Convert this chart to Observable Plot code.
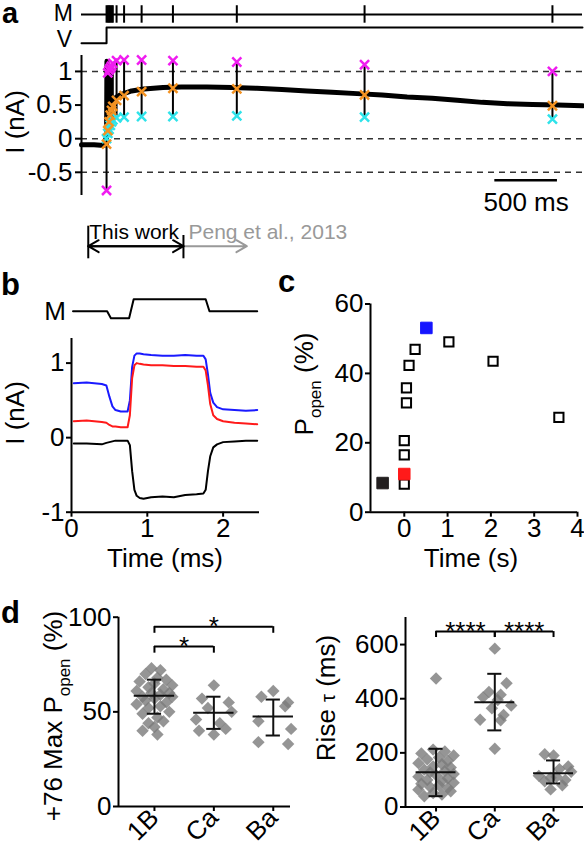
<!DOCTYPE html>
<html><head><meta charset="utf-8">
<script src="https://cdn.jsdelivr.net/npm/d3@7"></script>
<script src="https://cdn.jsdelivr.net/npm/@observablehq/plot@0.6"></script>
<style>
html,body{margin:0;padding:0;background:#fff;}
#fig{position:relative;width:584px;height:853px;overflow:hidden;font-family:'Liberation Sans',Arial,Helvetica,sans-serif;}
</style></head><body>
<div id="fig"></div>
<script>
// ---------- Panel a data ----------
const aTraceTime    = [-0.2, -0.1, -0.02, 0, 0.003, 0.006, 0.012, 0.02, 0.035, 0.05, 0.08, 0.12, 0.2, 0.3, 0.45, 0.6, 0.8, 1.0, 1.2, 1.4, 1.6, 1.8, 2.0, 2.2, 2.4, 2.6, 2.8, 3.0, 3.2, 3.4, 3.6, 3.8];
const aTraceCurrent = [-0.09, -0.09, -0.1, -0.08, 1.15, 0.9, 0.45, 0.5, 0.55, 0.58, 0.62, 0.66, 0.71, 0.74, 0.76, 0.77, 0.77, 0.76, 0.75, 0.73, 0.71, 0.69, 0.67, 0.65, 0.62, 0.6, 0.57, 0.54, 0.52, 0.51, 0.5, 0.49];
const aBarTime    = [0, 0.01, 0.02, 0.03, 0.04, 0.05, 0.08, 0.14, 0.28, 0.53, 1.04, 2.06, 3.56];
const aBarMagenta = [-0.77, 0.98, 1.02, 1.05, 1.08, 1.12, 1.16, 1.17, 1.17, 1.16, 1.14, 1.10, 1.00];
const aBarOrange  = [-0.08, 0.12, 0.25, 0.35, 0.42, 0.48, 0.57, 0.64, 0.70, 0.75, 0.74, 0.65, 0.49];
const aBarCyan    = [0.0, 0.08, 0.14, 0.2, 0.25, 0.28, 0.31, 0.32, 0.33, 0.33, 0.34, 0.32, 0.29];
const aMTickTime  = [0, 0.01, 0.02, 0.03, 0.04, 0.05, 0.08, 0.14, 0.28, 0.53, 1.04, 2.06, 3.56];
const aVTime  = [-0.2, 0, 0, 3.8];
const aVLevel = [0, 0, 1, 1];
const aMLevel = 1.82;
const aYTicks = [-0.5, 0, 0.5, 1];
const aDashed = [-0.5, 0, 1];
const aScaleBarStart = 3.1, aScaleBarLength = 0.5, aScaleBarLevel = -0.62, aScaleBarLabel = "500 ms";
const aThisWorkStart = -0.146, aThisWorkEnd = 0.614, aPengEnd = 1.12;
const aThisWorkLabel = "This work", aPengLabel = "Peng et al., 2013";

// ---------- Panel b data ----------
const bMTime  = [0.02, 0.47, 0.52, 0.76, 0.82, 1.77, 1.82, 2.45];
const bMLevel = [0, 0, -0.58, -0.58, 1, 1, 0, 0];
const bTime  = [0.03, 0.2, 0.4, 0.46, 0.5, 0.54, 0.58, 0.65, 0.74, 0.77, 0.8, 0.83, 0.86, 0.9, 0.95, 1.05, 1.2, 1.35, 1.5, 1.65, 1.74, 1.77, 1.8, 1.83, 1.87, 1.92, 2.0, 2.15, 2.3, 2.45];
const bBlue  = [0.73, 0.74, 0.72, 0.7, 0.55, 0.42, 0.37, 0.35, 0.35, 0.5, 0.95, 1.1, 1.13, 1.13, 1.12, 1.11, 1.1, 1.1, 1.11, 1.1, 1.1, 1.05, 0.85, 0.6, 0.47, 0.41, 0.38, 0.37, 0.36, 0.37];
const bRed   = [0.22, 0.23, 0.21, 0.2, 0.17, 0.15, 0.15, 0.14, 0.14, 0.3, 0.8, 0.97, 1.0, 0.99, 0.98, 0.97, 0.97, 0.96, 0.96, 0.95, 0.95, 0.9, 0.7, 0.45, 0.3, 0.25, 0.22, 0.2, 0.19, 0.18];
const bBlack = [-0.08, -0.08, -0.09, -0.07, -0.06, -0.05, -0.04, -0.04, -0.04, -0.1, -0.45, -0.7, -0.78, -0.81, -0.82, -0.8, -0.79, -0.8, -0.77, -0.76, -0.75, -0.7, -0.45, -0.25, -0.13, -0.09, -0.06, -0.05, -0.04, -0.04];
const bYTicks = [-1, 0, 1];
const bXTicks = [0, 1, 2];

// ---------- Panel c data ----------
const cTime  = [-0.5, 0, 0, 0, 0.05, 0.05, 0.11, 0.25, 0.51, 1.03, 2.05, 3.57, 0];
const cPopen = [8.4, 8.1, 16.5, 20.6, 31.5, 35.8, 42.3, 46.9, 53.1, 49.1, 43.5, 27.3, 11.0];
const cFill  = ["#231f20", "white", "white", "white", "white", "white", "white", "white", "#1515ff", "white", "white", "white", "#ff1a1a"];
const cYTicks = [0, 20, 40, 60];
const cXTicks = [0, 1, 2, 3, 4];

// ---------- Panel d data ----------
const dCategories = ["1B", "Ca", "Ba"];
const dMaxP1B = [73, 72, 70, 68, 67, 66, 65, 64, 63, 62, 61, 60, 60, 59, 58, 58, 57, 56, 55, 54, 53, 52, 50, 49, 47, 45, 44, 42, 40, 38];
const dMaxP1BOff = [-0.05, 0.1, -0.15, 0.05, 0.2, -0.25, 0.0, 0.3, -0.1, 0.15, -0.3, 0.25, -0.05, 0.1, -0.2, 0.3, 0.0, -0.15, 0.2, -0.3, 0.1, -0.1, 0.25, -0.2, 0.05, 0.15, -0.1, 0.0, -0.2, 0.05];
const dMaxPCa = [64, 57, 55, 52, 50, 46, 44, 41, 40, 38];
const dMaxPCaOff = [0, -0.2, 0.25, -0.1, 0.3, -0.3, 0.1, 0.2, -0.25, 0.0];
const dMaxPBa = [61, 58, 55, 53, 45, 41, 34, 33];
const dMaxPBaOff = [0, -0.2, 0.25, 0.2, -0.25, 0.3, -0.25, 0.25];
const dMaxPMean = [58.5, 49.5, 47.5];
const dMaxPLow  = [49, 41, 37.5];
const dMaxPHigh = [67, 58, 56.5];
const dMaxPTicks = [0, 50, 100];

const dRise1B = [475, 212, 205, 198, 190, 183, 176, 170, 162, 158, 150, 146, 138, 133, 128, 122, 118, 112, 106, 100, 96, 90, 86, 80, 74, 70, 64, 58, 52, 46, 40];
const dRise1BOff = [0, -0.05, 0.15, -0.25, 0.3, 0.05, -0.15, 0.2, -0.3, 0.1, -0.05, 0.25, -0.2, 0.15, -0.1, 0.3, 0.0, -0.3, 0.2, -0.15, 0.1, 0.3, -0.25, 0.05, -0.1, 0.2, -0.3, 0.25, -0.05, 0.1, -0.2];
const dRiseCa = [585, 457, 425, 415, 405, 395, 375, 365, 340, 322, 320, 215];
const dRiseCaOff = [0, 0.2, -0.1, 0.1, -0.2, 0.05, 0.28, -0.05, 0.15, -0.25, 0.1, 0];
const dRiseBa = [195, 190, 150, 140, 130, 115, 112, 108, 100, 95, 80, 65];
const dRiseBaOff = [-0.15, 0.0, 0.25, 0.1, 0.3, -0.25, 0.05, -0.05, 0.2, -0.15, 0.15, -0.05];
const dRiseMean = [128, 387, 125];
const dRiseLow  = [40, 283, 87];
const dRiseHigh = [215, 492, 172];
const dRiseTicks = [0, 200, 400, 600];

const dMaxPBrackets = [{a: 0, b: 1, y: 84.5, drop: 3.5, label: "*"}, {a: 0, b: 2, y: 95, drop: 3.5, label: "*"}];
const dRiseBrackets = [{a: 0, b: 1, y: 648, drop: 22, label: "****"}, {a: 1, b: 2, y: 648, drop: 22, label: "****"}];

// ---------- helpers ----------
const FONT = "'Liberation Sans', Arial, Helvetica, sans-serif";
const fig = document.getElementById("fig");
const STYLE = {fontFamily: FONT, fontSize: "26px", background: "transparent", overflow: "visible", color: "black"};
function place(svg, left, top) {
  svg.style.position = "absolute";
  svg.style.left = left + "px";
  svg.style.top = top + "px";
  fig.appendChild(svg);
}
const fmt = d => String(d);
const MAG = "#f01cf0", ORA = "#f39221", CYA = "#2fe3ea";

// ---------- Panel a: M / V ----------
place(Plot.plot({
  width: 584, height: 50, marginLeft: 81, marginRight: 2, marginTop: 0, marginBottom: 0,
  style: STYLE,
  x: {domain: [-0.2, 3.8], axis: null},
  y: {domain: [-0.45, 2.7], axis: null},
  marks: [
    Plot.ruleY([aMLevel], {stroke: "black", strokeWidth: 2}),
    Plot.ruleX(aMTickTime, {y1: aMLevel - 0.55, y2: aMLevel + 0.55, stroke: "black", strokeWidth: 2}),
    Plot.line(aVTime.map((t, i) => ({t, v: aVLevel[i]})), {x: "t", y: "v", stroke: "black", strokeWidth: 2})
  ]
}), 0, 0);

// ---------- Panel a: current ----------
const aTrace = aTraceTime.map((t, i) => ({t, i: aTraceCurrent[i]}));
const aBars = aBarTime.map((t, i) => ({t, m: aBarMagenta[i], o: aBarOrange[i], c: aBarCyan[i],
  lo: Math.min(aBarMagenta[i], aBarCyan[i]), hi: Math.max(aBarMagenta[i], aBarCyan[i])}));
place(Plot.plot({
  width: 584, height: 165, marginLeft: 81, marginRight: 2, marginTop: 5, marginBottom: 20,
  style: STYLE,
  x: {domain: [-0.2, 3.8], axis: null},
  y: {domain: [-0.845, 1.237], axis: null},
  marks: [
    Plot.ruleY(aDashed, {stroke: "#333", strokeWidth: 1.5, strokeDasharray: "6,5"}),
    Plot.line(aTrace, {x: "t", y: "i", stroke: "black", strokeWidth: 5}),
    Plot.ruleX(aBars, {x: "t", y1: "lo", y2: "hi", stroke: "black", strokeWidth: 2}),
    Plot.dot(aBars, {x: "t", y: "c", symbol: "times", r: 4.2, stroke: CYA, strokeWidth: 2.5}),
    Plot.dot(aBars, {x: "t", y: "o", symbol: "times", r: 4.2, stroke: ORA, strokeWidth: 2.5}),
    Plot.dot(aBars, {x: "t", y: "m", symbol: "times", r: 4.2, stroke: MAG, strokeWidth: 2.5}),
    Plot.ruleX([-0.2], {stroke: "black", strokeWidth: 2}),
    Plot.axisY({ticks: aYTicks, tickFormat: fmt, tickSize: 6, tickPadding: 3, strokeWidth: 2, fontSize: 26, label: null}),
    Plot.ruleY([{y: aScaleBarLevel, x1: aScaleBarStart, x2: aScaleBarStart + aScaleBarLength}], {y: "y", x1: "x1", x2: "x2", stroke: "black", strokeWidth: 2.5}),
    Plot.text([aScaleBarLabel], {x: aScaleBarStart + aScaleBarLength / 2, y: aScaleBarLevel, text: d => d, dy: 22, fontSize: 26, fill: "black"})
  ]
}), 0, 50);

// ---------- Panel a: span arrows ----------
place(Plot.plot({
  width: 584, height: 50, marginLeft: 81, marginRight: 2, marginTop: 0, marginBottom: 0,
  style: STYLE,
  x: {domain: [-0.2, 3.8], axis: null},
  y: {domain: [0, 1], axis: null},
  marks: [
    Plot.arrow([{x1: aThisWorkEnd, x2: aPengEnd}], {x1: "x1", x2: "x2", y1: 0.386, y2: 0.386, stroke: "#999", strokeWidth: 2, headLength: 9}),
    Plot.arrow([{x1: aThisWorkEnd, x2: aThisWorkStart}, {x1: aThisWorkStart, x2: aThisWorkEnd}], {x1: "x1", x2: "x2", y1: 0.386, y2: 0.386, stroke: "black", strokeWidth: 2, headLength: 9}),
    Plot.ruleX([{x: aThisWorkStart, y1: 0.134, y2: 0.786}, {x: aThisWorkEnd, y1: 0.134, y2: 0.6}], {x: "x", y1: "y1", y2: "y2", stroke: "black", strokeWidth: 2}),
    Plot.text([aThisWorkLabel], {x: aThisWorkStart, y: 0.54, text: d => d, textAnchor: "start", lineAnchor: "bottom", dx: 1, fontSize: 21, fill: "black"}),
    Plot.text([aPengLabel], {x: aThisWorkEnd, y: 0.54, text: d => d, textAnchor: "start", lineAnchor: "bottom", dx: 5, fontSize: 21, fill: "#999"})
  ]
}), 0, 215);

// ---------- Panel b: M ----------
place(Plot.plot({
  width: 280, height: 40, marginLeft: 71, marginRight: 21, marginTop: 0, marginBottom: 0,
  style: STYLE,
  x: {domain: [0, 2.48], axis: null},
  y: {domain: [-1.6, 1.73], axis: null},
  marks: [
    Plot.line(bMTime.map((t, i) => ({t, v: bMLevel[i]})), {x: "t", y: "v", stroke: "black", strokeWidth: 2})
  ]
}), 0, 290);

// ---------- Panel b: currents ----------
const bData = [];
bTime.forEach((t, i) => {
  bData.push({t, v: bBlue[i], s: "blue"});
  bData.push({t, v: bRed[i], s: "red"});
  bData.push({t, v: bBlack[i], s: "black"});
});
place(Plot.plot({
  width: 280, height: 230, marginLeft: 71, marginRight: 21, marginTop: 8, marginBottom: 48.3,
  style: STYLE,
  x: {domain: [0, 2.48], axis: null},
  y: {domain: [-1, 1.33], axis: null},
  marks: [
    Plot.line(bData.filter(d => d.s === "blue"), {x: "t", y: "v", stroke: "#1a1aff", strokeWidth: 2}),
    Plot.line(bData.filter(d => d.s === "red"), {x: "t", y: "v", stroke: "#ff1a1a", strokeWidth: 2}),
    Plot.line(bData.filter(d => d.s === "black"), {x: "t", y: "v", stroke: "black", strokeWidth: 2}),
    Plot.ruleX([0], {stroke: "black", strokeWidth: 2}),
    Plot.ruleY([-1], {stroke: "black", strokeWidth: 2}),
    Plot.axisY({ticks: bYTicks, tickFormat: fmt, tickSize: 5, tickPadding: 2, strokeWidth: 2, fontSize: 26, label: null}),
    Plot.axisX({ticks: bXTicks, tickFormat: fmt, tickSize: 5, tickPadding: 1, strokeWidth: 2, fontSize: 26, label: null})
  ]
}), 0, 330);

// ---------- Panel c ----------
const cData = cTime.map((t, i) => ({t, p: cPopen[i], f: cFill[i]}));
place(Plot.plot({
  width: 304, height: 270, marginLeft: 90, marginRight: 7, marginTop: 13.5, marginBottom: 48.3,
  style: STYLE,
  x: {domain: [-0.78, 4], axis: null},
  y: {domain: [0, 60], axis: null},
  marks: [
    Plot.ruleX([-0.78], {stroke: "black", strokeWidth: 2}),
    Plot.ruleY([0], {stroke: "black", strokeWidth: 2}),
    Plot.axisY({ticks: cYTicks, tickFormat: fmt, tickSize: 5, tickPadding: 2, strokeWidth: 2, fontSize: 26, label: null}),
    Plot.axisX({ticks: cXTicks, tickFormat: fmt, tickSize: 5, tickPadding: 1, strokeWidth: 2, fontSize: 26, label: null}),
    Plot.dot(cData.filter(d => d.f === "white"), {x: "t", y: "p", symbol: "square", r: 5.2, fill: "white", stroke: "black", strokeWidth: 2}),
    Plot.dot(cData.filter(d => d.f !== "white"), {x: "t", y: "p", symbol: "square", r: 6.5, fill: "f", stroke: "f", strokeWidth: 1})
  ]
}), 280, 290);

// ---------- Panel d ----------
function dotsFrom(vals1, off1, vals2, off2, vals3, off3) {
  const out = [];
  vals1.forEach((v, i) => out.push({x: 0 + off1[i], v}));
  vals2.forEach((v, i) => out.push({x: 1 + off2[i], v}));
  vals3.forEach((v, i) => out.push({x: 2 + off3[i], v}));
  return out;
}
function dPanel(points, means, lows, highs, ticks, brackets, opts) {
  const summary = means.map((m, i) => ({i, m, lo: lows[i], hi: highs[i]}));
  const hw = opts.meanHalf, cw = opts.capHalf;
  return Plot.plot({
    width: opts.width, height: 253, marginLeft: opts.ml, marginRight: opts.mr, marginTop: opts.mt, marginBottom: opts.mb,
    style: STYLE,
    x: {domain: opts.xd, axis: null},
    y: {domain: opts.yd, axis: null},
    marks: [
      Plot.ruleX([opts.xd[0]], {stroke: "black", strokeWidth: 2}),
      Plot.ruleY([0], {stroke: "black", strokeWidth: 2}),
      Plot.axisY({ticks, tickFormat: fmt, tickSize: 5, tickPadding: 2, strokeWidth: 2, fontSize: 26, label: null}),
      Plot.axisX({ticks: [0, 1, 2], tickFormat: i => dCategories[i], tickRotate: -45, tickSize: 5, tickPadding: 2, strokeWidth: 2, fontSize: 26, label: null}),
      Plot.dot(points, {x: "x", y: "v", symbol: "diamond2", r: 5.6, fill: "#7a7a7a", fillOpacity: 0.8, stroke: "none"}),
      Plot.ruleY(summary, {y: "m", x1: d => d.i - hw, x2: d => d.i + hw, stroke: "#111", strokeWidth: 2}),
      Plot.ruleX(summary, {x: "i", y1: "lo", y2: "hi", stroke: "#111", strokeWidth: 2}),
      Plot.ruleY(summary, {y: "lo", x1: d => d.i - cw, x2: d => d.i + cw, stroke: "#111", strokeWidth: 2}),
      Plot.ruleY(summary, {y: "hi", x1: d => d.i - cw, x2: d => d.i + cw, stroke: "#111", strokeWidth: 2}),
      Plot.ruleY(brackets, {y: "y", x1: "a", x2: "b", stroke: "black", strokeWidth: 2}),
      Plot.ruleX(brackets, {x: "a", y1: d => d.y - d.drop, y2: "y", stroke: "black", strokeWidth: 2}),
      Plot.ruleX(brackets, {x: "b", y1: d => d.y - d.drop, y2: "y", stroke: "black", strokeWidth: 2}),
      Plot.text(brackets, {x: d => (d.a + d.b) / 2, y: "y", text: "label", dy: opts.starDy, fontSize: 26, fill: "black"})
    ]
  });
}
place(dPanel(dotsFrom(dMaxP1B, dMaxP1BOff, dMaxPCa, dMaxPCaOff, dMaxPBa, dMaxPBaOff),
  dMaxPMean, dMaxPLow, dMaxPHigh, dMaxPTicks, dMaxPBrackets,
  {width: 300, ml: 118, mr: 10, mt: 16.7, mb: 47, xd: [-0.605, 2.29], yd: [0, 100], meanHalf: 0.34, capHalf: 0.12, starDy: 0}), 0, 600);
place(dPanel(dotsFrom(dRise1B, dRise1BOff, dRiseCa, dRiseCaOff, dRiseBa, dRiseBaOff),
  dRiseMean, dRiseLow, dRiseHigh, dRiseTicks, dRiseBrackets,
  {width: 294, ml: 115, mr: 1, mt: 17, mb: 46.5, xd: [-0.52, 2.51], yd: [0, 700], meanHalf: 0.34, capHalf: 0.12, starDy: 0}), 290, 600);

// ---------- free text ----------
const ns = "http://www.w3.org/2000/svg";
const ov = document.createElementNS(ns, "svg");
ov.setAttribute("width", 584); ov.setAttribute("height", 853);
ov.style.position = "absolute"; ov.style.left = "0px"; ov.style.top = "0px";
ov.style.fontFamily = FONT; ov.style.pointerEvents = "none";
ov.innerHTML = `
<text x="2" y="23" font-size="29" font-weight="bold">a</text>
<text x="73" y="21" font-size="23" text-anchor="end">M</text>
<text x="72" y="47" font-size="23" text-anchor="end">V</text>
<text transform="translate(24,122) rotate(-90)" font-size="26" text-anchor="middle">I (nA)</text>
<text x="1" y="295" font-size="31" font-weight="bold">b</text>
<text x="66" y="320" font-size="26" text-anchor="end">M</text>
<text transform="translate(24,413) rotate(-90)" font-size="26" text-anchor="middle">I (nA)</text>
<text x="165" y="567" font-size="26" text-anchor="middle">Time (ms)</text>
<text x="278" y="292" font-size="31" font-weight="bold">c</text>
<text x="471" y="567" font-size="26" text-anchor="middle">Time (s)</text>
<text transform="translate(313,384) rotate(-90)" font-size="26" text-anchor="middle">P<tspan font-size="17" dy="8">open</tspan><tspan dy="-8"> (%)</tspan></text>
<text x="1" y="623" font-size="31" font-weight="bold">d</text>
<text transform="translate(62,716) rotate(-90)" font-size="26" text-anchor="middle">+76 Max P<tspan font-size="17" dy="8">open</tspan><tspan dy="-8"> (%)</tspan></text>
<text transform="translate(335,698) rotate(-90)" font-size="26" text-anchor="middle">Rise <tspan font-size="20">τ</tspan> (ms)</text>
`;
fig.appendChild(ov);
</script>
</body></html>
